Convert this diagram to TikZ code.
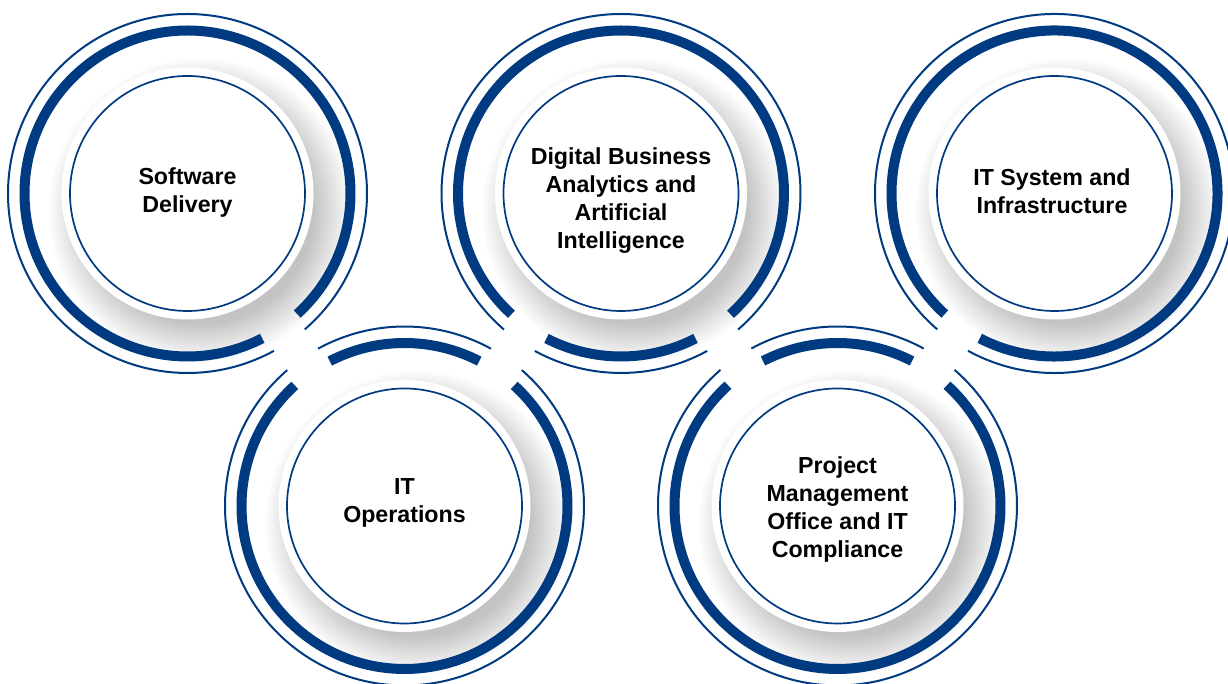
\documentclass[tikz,border=0pt]{standalone}
\usepackage{fontspec}
\setmainfont{Liberation Sans}
\definecolor{ringblue}{RGB}{0,58,128}
\begin{document}
\begin{tikzpicture}[x=0.5pt,y=0.5pt,
  thickring/.style={draw=ringblue, line width=5pt},
  thinring/.style={draw=ringblue, line width=1pt},
  innerring/.style={draw=ringblue, line width=0.85pt},
  disc/.style={fill=white},
  shadowlayer/.style={fill=black, opacity=0.011},
  lbl/.style={font=\bfseries\fontsize{11.6}{14}\selectfont, align=center, text=black, inner sep=0pt}]
\useasboundingbox (0,0) rectangle (1228,684);
\clip (0,0) rectangle (1228,684);
\fill[white] (0,0) rectangle (1228,684);

\coordinate (c1) at (187.5,490.5);
\coordinate (c2) at (404.5,178);
\coordinate (c3) at (621,490.5);
\coordinate (c4) at (837.5,178);
\coordinate (c5) at (1054.5,490.5);

% soft drop shadows (towards lower right)
\foreach \c in {c1,c2,c3,c4,c5}{
  \foreach \k in {0,...,19}{
    \fill[shadowlayer] ([shift={(13,-17)}]\c) circle ({152-2*\k});
  }
}

% circle 1
\draw[thickring] (c1) ++(-47.7:163) arc[start angle=-47.7, end angle=297.3, radius=163];
\draw[thinring]  (c1) ++(-49.2:179.5) arc[start angle=-49.2, end angle=298.8, radius=179.5];
% circle 3
\draw[thickring] (c3) ++(-47.8:163) arc[start angle=-47.8, end angle=227.8, radius=163];
\draw[thickring] (c3) ++(242.8:163) arc[start angle=242.8, end angle=297.2, radius=163];
\draw[thinring]  (c3) ++(-49.3:179.5) arc[start angle=-49.3, end angle=229.3, radius=179.5];
\draw[thinring]  (c3) ++(241.3:179.5) arc[start angle=241.3, end angle=298.7, radius=179.5];
% circle 5
\draw[thickring] (c5) ++(242.7:163) arc[start angle=242.7, end angle=587.7, radius=163];
\draw[thinring]  (c5) ++(241.2:179.5) arc[start angle=241.2, end angle=589.2, radius=179.5];
% circle 2
\draw[thickring] (c2) ++(62.7:163) arc[start angle=62.7, end angle=117.3, radius=163];
\draw[thickring] (c2) ++(132.3:163) arc[start angle=132.3, end angle=407.7, radius=163];
\draw[thinring]  (c2) ++(61.2:179.5) arc[start angle=61.2, end angle=118.8, radius=179.5];
\draw[thinring]  (c2) ++(130.8:179.5) arc[start angle=130.8, end angle=409.2, radius=179.5];
% circle 4
\draw[thickring] (c4) ++(62.8:163) arc[start angle=62.8, end angle=117.2, radius=163];
\draw[thickring] (c4) ++(132.2:163) arc[start angle=132.2, end angle=407.8, radius=163];
\draw[thinring]  (c4) ++(61.3:179.5) arc[start angle=61.3, end angle=118.7, radius=179.5];
\draw[thinring]  (c4) ++(130.7:179.5) arc[start angle=130.7, end angle=409.3, radius=179.5];

% discs and inner circles
\foreach \c in {c1,c2,c3,c4,c5}{
  \fill[disc] (\c) circle (126);
  \draw[innerring] (\c) circle (117.5);
}

% labels
\node[lbl] (t1) at (187.5,490.6) {Software\strut\\Delivery\strut};
\node[lbl] (t3) at (621,483.3) {Digital Business\strut\\Analytics and\strut\\Artificial\strut\\Intelligence\strut};
\node[lbl] (t5) at (1052,489.9) {IT System and\strut\\Infrastructure\strut};
\node[lbl] (t2) at (404.5,180.6) {IT\strut\\Operations\strut};
\node[lbl] (t4) at (837.5,174.3) {Project\strut\\Management\strut\\Office and IT\strut\\Compliance\strut};
\end{tikzpicture}
\end{document}
